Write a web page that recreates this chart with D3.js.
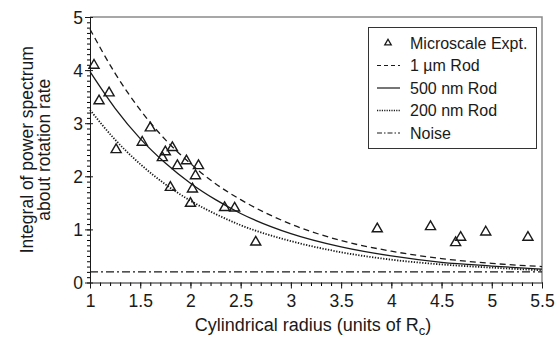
<!DOCTYPE html>
<html>
<head>
<meta charset="utf-8">
<script src="https://d3js.org/d3.v7.min.js"></script>
<style>
  body { margin: 0; background: #fff; }
  text { font-family: "Liberation Sans", Arial, sans-serif; fill: #1a1a1a; }
</style>
</head>
<body>
<script>
  var w = 555, h = 337;
  var padL = 90, padR = 542, padT = 17, padB = 282.5;

  // measured points (Microscale Expt.)
  var exptX = [1.04, 1.09, 1.19, 1.26, 1.52, 1.6, 1.75, 1.82, 1.72, 1.87, 1.96, 2.08, 2.05, 1.8, 2.02, 2.0, 2.34, 2.44, 2.65, 3.86, 4.39, 4.69, 4.64, 4.94, 5.36];
  var exptY = [4.09, 3.42, 3.57, 2.5, 2.64, 2.91, 2.46, 2.54, 2.35, 2.2, 2.29, 2.2, 2.01, 1.79, 1.76, 1.49, 1.41, 1.4, 0.76, 1.01, 1.05, 0.85, 0.75, 0.95, 0.85];

  // model curves
  var curveX = [1, 1.25, 1.5, 1.75, 2, 2.25, 2.5, 3, 3.5, 4, 4.5, 5, 5.5];
  var rod1um = [4.77, 3.94, 3.25, 2.69, 2.24, 1.86, 1.56, 1.10, 0.79, 0.59, 0.45, 0.36, 0.30];
  var rod500 = [3.97, 3.28, 2.71, 2.25, 1.87, 1.56, 1.30, 0.92, 0.67, 0.50, 0.38, 0.31, 0.25];
  var rod200 = [3.25, 2.69, 2.23, 1.85, 1.54, 1.29, 1.08, 0.78, 0.57, 0.43, 0.34, 0.28, 0.23];
  var noiseLevel = 0.2;

  var xTicks = [1, 1.5, 2, 2.5, 3, 3.5, 4, 4.5, 5, 5.5];
  var yTicks = [0, 1, 2, 3, 4, 5];

  var svg = d3.select("body").append("svg").attr("width", w).attr("height", h);

  var x = d3.scaleLinear().domain([1, 5.5]).range([padL, padR]);
  var y = d3.scaleLinear().domain([0, 5]).range([padB, padT]);

  // frame: gray top/right
  svg.append("path")
    .attr("d", "M" + padL + "," + padT + "H" + padR + "V" + padB)
    .attr("fill", "none").attr("stroke", "#8a8a8a").attr("stroke-width", 1.5);

  // minor ticks
  var minorX = d3.range(10, 56).map(function(d) { return d / 10; });
  var minorY = d3.range(0, 51).map(function(d) { return d / 10; });
  svg.append("g").attr("transform", "translate(0," + padB + ")")
    .call(d3.axisBottom(x).tickValues(minorX).tickSize(3.5).tickFormat(""))
    .call(function(g) { g.select(".domain").remove(); });
  svg.append("g").attr("transform", "translate(" + padL + ",0)")
    .call(d3.axisLeft(y).tickValues(minorY).tickSize(3).tickFormat(""))
    .call(function(g) { g.select(".domain").remove(); });

  // major axes
  var xAxis = svg.append("g").attr("transform", "translate(0," + padB + ")")
    .call(d3.axisBottom(x).tickValues(xTicks).tickSize(6).tickSizeOuter(0).tickPadding(6)
      .tickFormat(function(d) { return d; }));
  var yAxis = svg.append("g").attr("transform", "translate(" + padL + ",0)")
    .call(d3.axisLeft(y).tickValues(yTicks).tickSize(5).tickSizeOuter(0).tickPadding(2)
      .tickFormat(d3.format("d")));
  [xAxis, yAxis].forEach(function(g) {
    g.selectAll("text").style("font-size", "17.5px").attr("fill", "#1a1a1a");
    g.selectAll("line, path").attr("stroke", "#1a1a1a");
  });
  yAxis.selectAll(".tick line").attr("x2", -5).attr("x1", 3);
  yAxis.selectAll("text").attr("dy", "0.36em");

  // lines
  var line = d3.line().x(function(d) { return x(d[0]); }).y(function(d) { return y(d[1]); })
    .curve(d3.curveMonotoneX);
  var series = [
    { vals: rod1um, dash: "6,4", sw: 1.3 },
    { vals: rod500, dash: null, sw: 1.3 },
    { vals: rod200, dash: "1.3,1.5", sw: 1.8 }
  ];
  series.forEach(function(s) {
    svg.append("path")
      .datum(curveX.map(function(cx, i) { return [cx, s.vals[i]]; }))
      .attr("d", line).attr("fill", "none").attr("stroke", "#1a1a1a")
      .attr("stroke-width", s.sw).attr("stroke-dasharray", s.dash);
  });
  svg.append("line")
    .attr("x1", x(1)).attr("x2", x(5.5)).attr("y1", y(noiseLevel)).attr("y2", y(noiseLevel))
    .attr("stroke", "#1a1a1a").attr("stroke-width", 1.2).attr("stroke-dasharray", "8,3,2,3");

  // triangles
  var tri = d3.symbol().type(d3.symbolTriangle).size(44);
  svg.selectAll(".pt").data(exptX).enter().append("path")
    .attr("class", "pt")
    .attr("d", tri)
    .attr("transform", function(d, i) { return "translate(" + x(d) + "," + y(exptY[i]) + ")"; })
    .attr("fill", "none").attr("stroke", "#1a1a1a").attr("stroke-width", 1.4);

  // legend
  var lg = svg.append("g");
  lg.append("rect").attr("x", 368.5).attr("y", 27.5).attr("width", 168).attr("height", 121)
    .attr("fill", "#fff").attr("stroke", "#333").attr("stroke-width", 1);
  var legendItems = ["Microscale Expt.", "1 \u00b5m Rod", "500 nm Rod", "200 nm Rod", "Noise"];
  var legendDash = [null, "4,3", null, "1.2,1.2", "5,2,1.5,2"];
  legendItems.forEach(function(name, i) {
    var ly = 43 + i * 22.5;
    lg.append("text").attr("x", 410).attr("y", ly).attr("dy", "0.36em")
      .style("font-size", "16px").text(name);
    if (i === 0) {
      lg.append("path").attr("d", d3.symbol().type(d3.symbolTriangle).size(18))
        .attr("transform", "translate(388," + ly + ")")
        .attr("fill", "none").attr("stroke", "#1a1a1a").attr("stroke-width", 1.3);
    } else {
      lg.append("line").attr("x1", 377).attr("x2", 400).attr("y1", ly).attr("y2", ly)
        .attr("stroke", "#1a1a1a").attr("stroke-width", i === 3 ? 1.5 : 1.2)
        .attr("stroke-dasharray", legendDash[i]);
    }
  });

  // axis titles
  var xt = svg.append("text").attr("x", 313).attr("y", 331)
    .attr("text-anchor", "middle").style("font-size", "18px");
  xt.append("tspan").text("Cylindrical radius (units of R");
  xt.append("tspan").attr("dy", 4).style("font-size", "13px").text("c");
  xt.append("tspan").attr("dy", -4).text(")");

  var yt = svg.append("text").attr("transform", "translate(0," + ((padT + padB) / 2) + ") rotate(-90)")
    .attr("text-anchor", "middle").style("font-size", "17.5px");
  yt.append("tspan").attr("x", 0).attr("y", 33).text("Integral of power spectrum");
  yt.append("tspan").attr("x", 0).attr("y", 50).text("about rotation rate");
</script>
</body>
</html>
